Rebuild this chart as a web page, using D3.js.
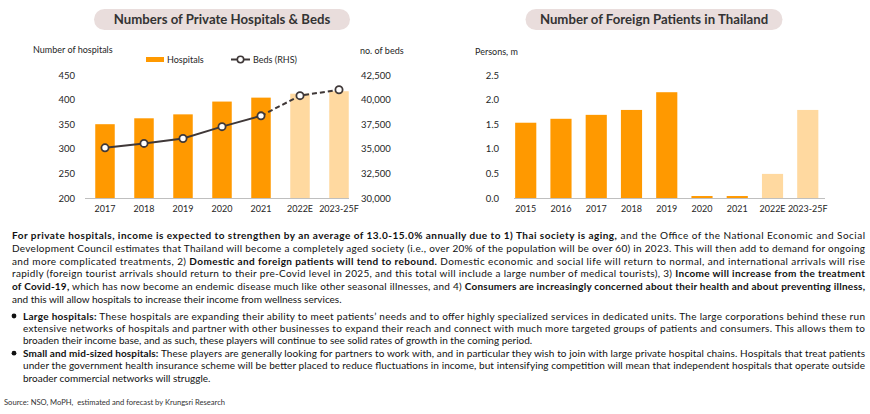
<!DOCTYPE html>
<html>
<head>
<meta charset="utf-8">
<script src="https://cdn.jsdelivr.net/npm/d3@7"></script>
<style>
  body { margin: 0; background: #fff; }
  svg { font-family: Lato, "Open Sans", sans-serif; }
</style>
</head>
<body>
<script>
// left chart data
const hospYears = ["2017","2018","2019","2020","2021","2022E","2023-25F"];
const hospitals = [350, 362, 370, 396, 404, 412, 417];
const beds = [35100, 35550, 36050, 37250, 38350, 40400, 41000];
const hospTicks = [200, 250, 300, 350, 400, 450];
const bedTicks = [30000, 32500, 35000, 37500, 40000, 42500];

// right chart data
const fpYears = ["2015","2016","2017","2018","2019","2020","2021","2022E","2023-25F"];
const foreignPatients = [1.53, 1.61, 1.69, 1.79, 2.15, 0.04, 0.04, 0.49, 1.79];
const fpTicks = [0.0, 0.5, 1.0, 1.5, 2.0, 2.5];

const ORANGE = "#ff9900", LIGHT = "#ffd9a0", LINE = "#3f3838", TXT = "#262626";

const svg = d3.select("body").append("svg")
  .attr("width", 870).attr("height", 414);

function titlePill(cx, w, label){
  svg.append("rect")
    .attr("x", cx - w/2).attr("y", 9).attr("width", w).attr("height", 21)
    .attr("rx", 10.5).attr("fill", "#e9dddc");
  svg.append("text")
    .attr("x", cx).attr("y", 24).attr("text-anchor", "middle")
    .attr("font-size", 13.2).attr("font-weight", "bold").attr("fill", "#333")
    .text(label);
}

// ---------- left chart ----------
titlePill(222, 256, "Numbers of Private Hospitals & Beds");

const x1 = d3.scaleBand().domain(hospYears).range([85.5, 358.5]).paddingInner(0.5).paddingOuter(0.25);
const yL = d3.scaleLinear().domain([200, 450]).range([198, 75]);
const yR = d3.scaleLinear().domain([30000, 42500]).range([198, 75]);

svg.append("g").selectAll("rect")
  .data(hospitals)
  .enter()
  .append("rect")
  .attr("x", (d, i) => x1(hospYears[i]))
  .attr("y", d => yL(d))
  .attr("width", x1.bandwidth())
  .attr("height", d => yL(200) - yL(d))
  .attr("fill", (d, i) => i >= 5 ? LIGHT : ORANGE);

svg.append("line")
  .attr("x1", 85).attr("x2", 349).attr("y1", 198.5).attr("y2", 198.5)
  .attr("stroke", "#bfbfbf");

const axL = svg.append("g").attr("transform", "translate(75,0)")
  .call(d3.axisLeft(yL).tickValues(hospTicks).tickSize(0).tickPadding(0));
const axR = svg.append("g").attr("transform", "translate(361,0)")
  .call(d3.axisRight(yR).tickValues(bedTicks).tickSize(0).tickPadding(0).tickFormat(d3.format(",")));
const axX1 = svg.append("g").attr("transform", "translate(0,198)")
  .call(d3.axisBottom(x1).tickSize(0).tickPadding(8));

const bedPts = beds.map((d, i) => [d, i]);
const bedLine = d3.line()
  .x(p => x1(hospYears[p[1]]) + x1.bandwidth()/2)
  .y(p => yR(p[0]));
svg.append("path")
  .attr("d", bedLine(bedPts.slice(0, 5)))
  .attr("fill", "none").attr("stroke", LINE).attr("stroke-width", 2);
svg.append("path")
  .attr("d", bedLine(bedPts.slice(4)))
  .attr("fill", "none").attr("stroke", LINE).attr("stroke-width", 2).attr("stroke-dasharray", "5,3");
svg.append("g").selectAll("circle")
  .data(beds)
  .enter()
  .append("circle")
  .attr("cx", (d, i) => x1(hospYears[i]) + x1.bandwidth()/2)
  .attr("cy", d => yR(d))
  .attr("r", 3.6)
  .attr("fill", "#fff").attr("stroke", LINE).attr("stroke-width", 1.8);

svg.append("text").attr("x", 33).attr("y", 53).attr("font-size", 9).attr("fill", TXT).text("Number of hospitals");
svg.append("text").attr("x", 360).attr("y", 54).attr("font-size", 9).attr("fill", TXT).text("no. of beds");

// legend
svg.append("rect").attr("x", 146).attr("y", 57).attr("width", 18).attr("height", 5).attr("fill", ORANGE);
svg.append("text").attr("x", 167).attr("y", 63).attr("font-size", 9).attr("fill", TXT).text("Hospitals");
svg.append("line").attr("x1", 231).attr("x2", 250).attr("y1", 59.5).attr("y2", 59.5).attr("stroke", LINE).attr("stroke-width", 2);
svg.append("circle").attr("cx", 240.5).attr("cy", 59.5).attr("r", 3.2).attr("fill", "#fff").attr("stroke", LINE).attr("stroke-width", 1.6);
svg.append("text").attr("x", 253).attr("y", 63).attr("font-size", 9).attr("fill", TXT).text("Beds (RHS)");

// ---------- right chart ----------
titlePill(654, 257, "Number of Foreign Patients in Thailand");

const x2 = d3.scaleBand().domain(fpYears).range([508.1, 825.4]).paddingInner(0.4).paddingOuter(0.2);
const y2 = d3.scaleLinear().domain([0, 2.5]).range([198, 75]);

svg.append("g").selectAll("rect")
  .data(foreignPatients)
  .enter()
  .append("rect")
  .attr("x", (d, i) => x2(fpYears[i]))
  .attr("y", d => y2(d))
  .attr("width", x2.bandwidth())
  .attr("height", d => y2(0) - y2(d))
  .attr("fill", (d, i) => i >= 7 ? LIGHT : ORANGE);

svg.append("line")
  .attr("x1", 514).attr("x2", 825).attr("y1", 198.5).attr("y2", 198.5)
  .attr("stroke", "#bfbfbf");

const ax2 = svg.append("g").attr("transform", "translate(499,0)")
  .call(d3.axisLeft(y2).tickValues(fpTicks).tickSize(0).tickPadding(0).tickFormat(d3.format(".1f")));
const axX2 = svg.append("g").attr("transform", "translate(0,198)")
  .call(d3.axisBottom(x2).tickSize(0).tickPadding(8));

svg.append("text").attr("x", 475).attr("y", 55).attr("font-size", 9).attr("fill", TXT).text("Persons, m");

[axL, axR, axX1, ax2, axX2].forEach(g => {
  g.select(".domain").remove();
  g.selectAll("text").attr("font-size", 9.5).attr("fill", TXT).attr("font-family", "Lato, sans-serif");
});
[axX1, axX2].forEach(g => g.selectAll("text").attr("font-size", 9));

// ---------- text block ----------
const paraLines = [
  [["b", "For private hospitals, income is expected to strengthen by an average of 13.0-15.0% annually due to 1) Thai society is aging,"], ["n", " and the Office of the National Economic and Social"]],
  [["n", "Development Council estimates that Thailand will become a completely aged society (i.e., over 20% of the population will be over 60) in 2023. This will then add to demand for ongoing"]],
  [["n", "and more complicated treatments, 2) "], ["b", "Domestic and foreign patients will tend to rebound."], ["n", " Domestic economic and social life will return to normal, and international arrivals will rise"]],
  [["n", "rapidly (foreign tourist arrivals should return to their pre-Covid level in 2025, and this total will include a large number of medical tourists), 3) "], ["b", "Income will increase from the treatment"]],
  [["b", "of Covid-19,"], ["n", " which has now become an endemic disease much like other seasonal illnesses, and 4) "], ["b", "Consumers are increasingly concerned about their health and about preventing illness,"]],
  [["n", "and this will allow hospitals to increase their income from wellness services."]]
];
const bulletLines = [
  [["b", "Large hospitals:"], ["n", " These hospitals are expanding their ability to meet patients\u2019 needs and to offer highly specialized services in dedicated units. The large corporations behind these run"]],
  [["n", "extensive networks of hospitals and partner with other businesses to expand their reach and connect with much more targeted groups of patients and consumers. This allows them to"]],
  [["n", "broaden their income base, and as such, these players will continue to see solid rates of growth in the coming period."]],
  [["b", "Small and mid-sized hospitals:"], ["n", " These players are generally looking for partners to work with, and in particular they wish to join with large private hospital chains. Hospitals that treat patients"]],
  [["n", "under the government health insurance scheme will be better placed to reduce fluctuations in income, but intensifying competition will mean that independent hospitals that operate outside"]],
  [["n", "broader commercial networks will struggle."]]
];
const paraY = [239, 251.8, 264.6, 277.4, 290.2, 303];
const bulletY = [319.5, 331.9, 344.3, 356.7, 369.1, 381.5];
const justifyPara = [true, true, true, true, true, false];
const justifyBullet = [true, true, false, true, true, false];
const bulletStart = [0, 3];

function drawLine(parts, x, y, right, justify){
  const t = svg.append("text").attr("x", x).attr("y", y)
    .attr("font-size", 10).attr("fill", "#111");
  parts.forEach(p => {
    t.append("tspan").attr("font-weight", p[0] === "b" ? "bold" : "normal")
      .attr("xml:space", "preserve").text(p[1]);
  });
  const w = t.node().getComputedTextLength();
  if (justify || w > right - x) {
    t.attr("textLength", right - x).attr("lengthAdjust", w > right - x ? "spacingAndGlyphs" : "spacing");
  }
}

paraLines.forEach((l, i) => drawLine(l, 12, paraY[i], 865, justifyPara[i]));
bulletLines.forEach((l, i) => drawLine(l, 23, bulletY[i], 865, justifyBullet[i]));
bulletStart.forEach(i => {
  svg.append("circle").attr("cx", 14).attr("cy", bulletY[i] - 3.5).attr("r", 2.4).attr("fill", "#111");
});

svg.append("text").attr("x", 4).attr("y", 405).attr("font-size", 7.6).attr("fill", "#333")
  .attr("xml:space", "preserve")
  .text("Source: NSO, MoPH,  estimated and forecast by Krungsri Research");
</script>
</body>
</html>
